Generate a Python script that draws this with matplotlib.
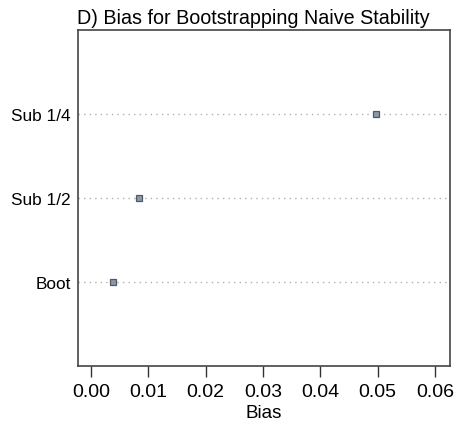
import numpy as np
import matplotlib.pyplot as plt

plt.rcParams['font.family'] = ['Liberation Sans', 'DejaVu Sans']

methods = ['Boot', 'Sub 1/2', 'Sub 1/4']
bias = [0.0038, 0.0084, 0.0497]
xticks = [0.00, 0.01, 0.02, 0.03, 0.04, 0.05, 0.06]

fig = plt.figure(figsize=(4.58, 4.35), dpi=100)
ax = fig.add_axes([78 / 458, 1 - 367 / 435, 372 / 458, 336 / 435])

ypos = np.arange(1, len(methods) + 1)
for y in ypos:
    ax.axhline(y, color='#b0b0b0', ls=(0, (1, 3)), lw=1, zorder=1)
ax.plot(bias, ypos, 's', ms=5, mfc='#8a9aa8', mec='#505a66', mew=0.9, ls='none', zorder=3)

ax.set_xlim(-0.00227, 0.0626)
ax.set_ylim(0, 4)
ax.set_xticks(xticks)
ax.set_xticklabels(['%.2f' % t for t in xticks], fontsize=14)
ax.set_yticks(ypos)
ax.set_yticklabels(methods, fontsize=12.4)
ax.tick_params(axis='x', length=8, width=1, pad=4, direction='out', colors='#333333', labelcolor='black')
ax.tick_params(axis='y', length=0, pad=5)
for s in ax.spines.values():
    s.set_color('#444444')
    s.set_linewidth(1.2)
ax.set_xlabel('Bias', fontsize=13.5, labelpad=3)
ax.set_title('D) Bias for Bootstrapping Naive Stability', fontsize=14.2, loc='left', pad=5, x=-0.003)

fig.savefig('out.png', dpi=100)
